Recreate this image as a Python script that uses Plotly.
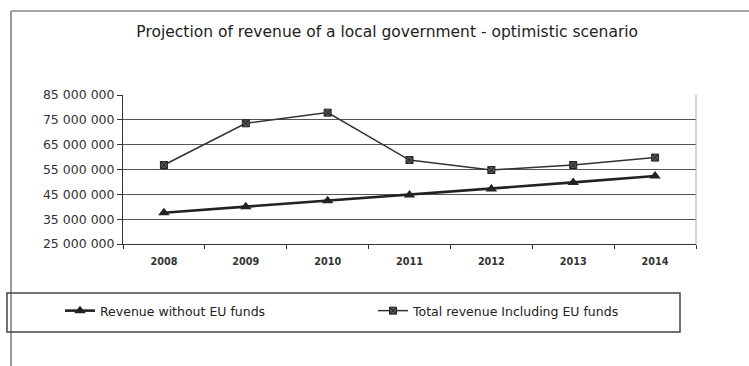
import plotly.graph_objects as go

years = ["2008", "2009", "2010", "2011", "2012", "2013", "2014"]
revenue_without_eu = [37.6e6, 40.0e6, 42.4e6, 44.7e6, 47.1e6, 49.8e6, 52.4e6]
total_with_eu = [56.8e6, 73.6e6, 77.9e6, 58.8e6, 54.8e6, 56.8e6, 59.8e6]
y_ticks = [25e6, 35e6, 45e6, 55e6, 65e6, 75e6, 85e6]

W, H = 749, 366
ML, MR, MT, MB = 123, 53, 95, 122
PW, PH = W - ML - MR, H - MT - MB


def px_x(p):
    return (p - ML) / PW


def px_y(p):
    return (H - MB - p) / PH


fig = go.Figure()
fig.add_trace(go.Scatter(
    x=years, y=revenue_without_eu, name="Revenue without EU funds",
    mode="lines+markers",
    line=dict(color="#222222", width=2.6),
    marker=dict(symbol="triangle-up", size=10, color="#222222"),
))
fig.add_trace(go.Scatter(
    x=years, y=total_with_eu, name="Total revenue Including EU funds",
    mode="lines+markers",
    line=dict(color="#333333", width=1.5),
    marker=dict(symbol="square-x", size=7, color="#555555",
                line=dict(color="#222222", width=1)),
))

font = "DejaVu Sans, Liberation Sans, Arial, sans-serif"
shapes = [
    # outer chart frame (left and top edges)
    dict(type="line", xref="paper", yref="paper",
         x0=px_x(11), x1=px_x(11), y0=px_y(11), y1=px_y(366),
         line=dict(color="#777777", width=1.5)),
    dict(type="line", xref="paper", yref="paper",
         x0=px_x(11), x1=px_x(749), y0=px_y(11), y1=px_y(11),
         line=dict(color="#888888", width=1.5)),
    # legend box
    dict(type="rect", xref="paper", yref="paper",
         x0=px_x(7), x1=px_x(680), y0=px_y(293), y1=px_y(332),
         line=dict(color="#444444", width=1.5)),
    # right border of plot area
    dict(type="line", xref="paper", yref="paper",
         x0=1, x1=1, y0=0, y1=1, line=dict(color="#aaaaaa", width=1)),
]

fig.update_layout(
    width=W, height=H,
    margin=dict(l=ML, r=MR, t=MT, b=MB),
    paper_bgcolor="white", plot_bgcolor="white",
    separators=". ",
    font=dict(family=font, color="#222222"),
    title=dict(text="Projection of revenue of a local government - optimistic scenario",
               x=0.517, xanchor="center", y=1 - 32 / H, yanchor="middle",
               font=dict(size=15.5, family=font, color="#222222")),
    xaxis=dict(type="category", tickson="boundaries", ticks="outside", ticklen=4,
               tickcolor="#333333", showline=True, linecolor="#333333", linewidth=1,
               showgrid=False, ticklabelstandoff=8,
               tickfont=dict(size=9.7, family=font, weight="bold", color="#333333"),
               range=[-0.5, 6.5]),
    yaxis=dict(range=[25e6, 85e6], tickvals=y_ticks, tickformat=",d",
               ticks="outside", ticklen=5, tickcolor="#333333",
               showline=True, linecolor="#333333", linewidth=1,
               showgrid=True, gridcolor="#555555", gridwidth=1,
               tickfont=dict(size=12.5, family=font, color="#333333"),
               zeroline=False),
    legend=dict(orientation="h", x=px_x(60), xanchor="left", y=px_y(311), yanchor="middle",
                font=dict(size=12.5, family=font, color="#222222"),
                bgcolor="rgba(0,0,0,0)", entrywidth=268, entrywidthmode="pixels"),
    shapes=shapes,
    showlegend=True,
)

fig.write_html("out.html")
